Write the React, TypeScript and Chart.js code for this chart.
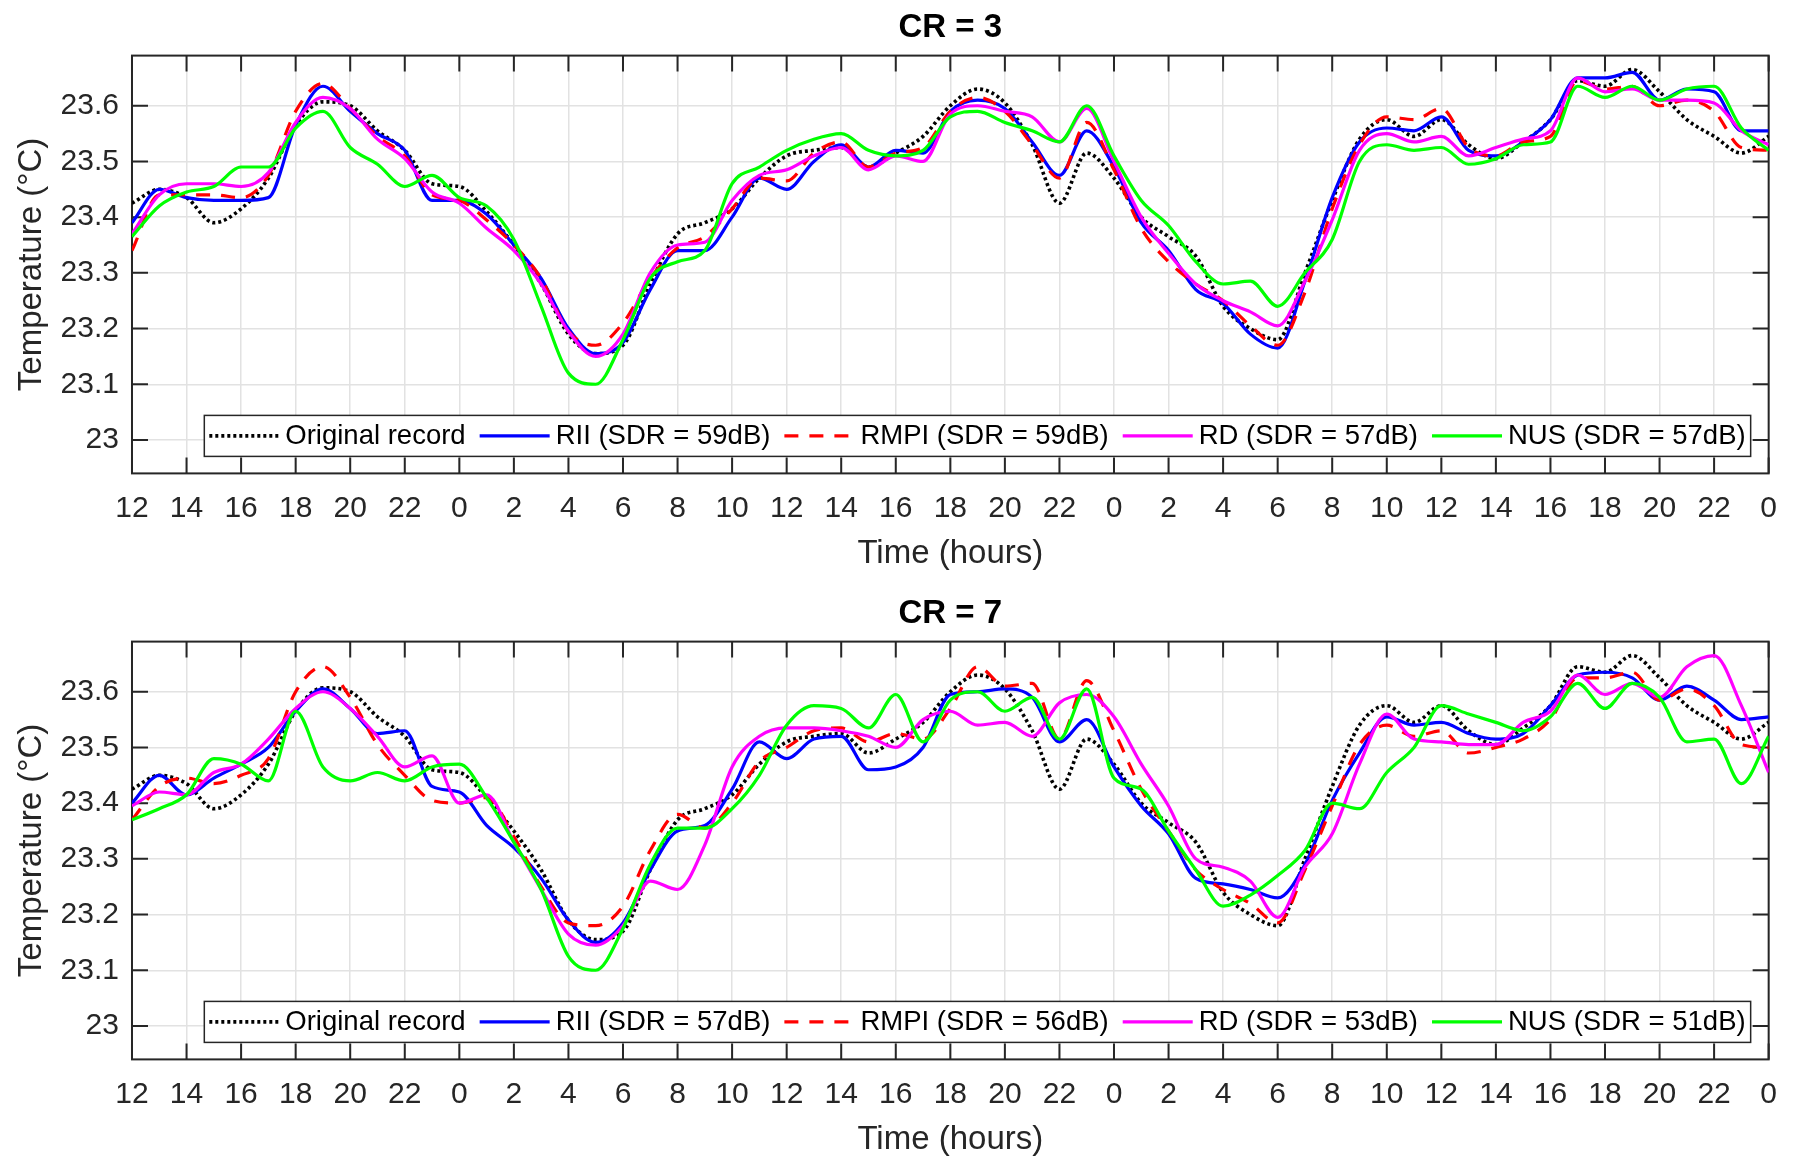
import React, { useEffect, useRef } from 'react';
import { Chart, registerables } from 'chart.js';

Chart.register(...registerables);

// ---------- data ----------
const HOURS = [
  0, 1, 2, 3, 4, 5, 6, 7, 8, 9, 10, 11, 12, 13, 14, 15, 16, 17, 18, 19, 20,
  21, 22, 23, 24, 25, 26, 27, 28, 29, 30, 31, 32, 33, 34, 35, 36, 37, 38, 39, 40,
  41, 42, 43, 44, 45, 46, 47, 48, 49, 50, 51, 52, 53, 54, 55, 56, 57, 58, 59, 60,
];
const X_TICKS = [0, 2, 4, 6, 8, 10, 12, 14, 16, 18, 20, 22, 24, 26, 28, 30, 32, 34, 36, 38, 40, 42, 44, 46, 48, 50, 52, 54, 56, 58, 60];
const X_TICK_LABELS = ['12', '14', '16', '18', '20', '22', '0', '2', '4', '6', '8', '10', '12', '14', '16', '18', '20', '22', '0', '2', '4', '6', '8', '10', '12', '14', '16', '18', '20', '22', '0'];
const Y_TICKS = [23.0, 23.1, 23.2, 23.3, 23.4, 23.5, 23.6];

const ORIGINAL = [
  23.425, 23.45, 23.435, 23.39, 23.415, 23.47, 23.565, 23.607, 23.6, 23.555, 23.52,
  23.46, 23.455, 23.41, 23.35, 23.28, 23.19, 23.155, 23.17, 23.28, 23.37,
  23.39, 23.415, 23.47, 23.51, 23.52, 23.525, 23.49, 23.515, 23.545, 23.6,
  23.63, 23.605, 23.53, 23.425, 23.515, 23.47, 23.4, 23.365, 23.33, 23.24,
  23.2, 23.18, 23.3, 23.43, 23.54, 23.575, 23.545, 23.575, 23.53, 23.505,
  23.535, 23.575, 23.645, 23.635, 23.665, 23.625, 23.575, 23.545, 23.515, 23.545,
];

const CR3_RII = [
  23.39, 23.45, 23.435, 23.43, 23.43, 23.435, 23.565, 23.635, 23.59, 23.55, 23.52,
  23.43, 23.43, 23.405, 23.35, 23.29, 23.2, 23.155, 23.175, 23.27, 23.34,
  23.34, 23.4, 23.47, 23.45, 23.5, 23.53, 23.49, 23.52, 23.515, 23.59,
  23.61, 23.595, 23.535, 23.475, 23.555, 23.49, 23.39, 23.34, 23.27, 23.245,
  23.19, 23.165, 23.285, 23.435, 23.535, 23.56, 23.555, 23.58, 23.52, 23.51,
  23.535, 23.575, 23.65, 23.65, 23.66, 23.61, 23.63, 23.625, 23.555, 23.555,
];
const CR3_RMPI = [
  23.34, 23.44, 23.44, 23.44, 23.435, 23.475, 23.59, 23.64, 23.595, 23.545, 23.51,
  23.44, 23.43, 23.395, 23.35, 23.29, 23.195, 23.17, 23.21, 23.29, 23.345,
  23.365, 23.415, 23.47, 23.465, 23.515, 23.535, 23.49, 23.515, 23.525, 23.59,
  23.615, 23.59, 23.53, 23.47, 23.57, 23.485, 23.38, 23.32, 23.28, 23.25,
  23.205, 23.17, 23.265, 23.415, 23.53, 23.58, 23.575, 23.595, 23.525, 23.51,
  23.535, 23.545, 23.645, 23.63, 23.635, 23.6, 23.61, 23.59, 23.525, 23.52,
];
const CR3_RD = [
  23.37, 23.44, 23.46, 23.46, 23.455, 23.48, 23.57, 23.615, 23.595, 23.54, 23.505,
  23.445, 23.425, 23.38, 23.34, 23.28, 23.195, 23.15, 23.19, 23.3, 23.35,
  23.355, 23.43, 23.475, 23.485, 23.51, 23.525, 23.485, 23.51, 23.5, 23.585,
  23.6, 23.59, 23.58, 23.535, 23.595, 23.5, 23.4, 23.335, 23.28, 23.25,
  23.23, 23.205, 23.285, 23.395, 23.52, 23.55, 23.535, 23.545, 23.51, 23.525,
  23.54, 23.555, 23.65, 23.625, 23.63, 23.61, 23.61, 23.605, 23.555, 23.53,
];
const CR3_NUS = [
  23.365, 23.42, 23.445, 23.455, 23.49, 23.49, 23.56, 23.59, 23.525, 23.495, 23.455,
  23.475, 23.435, 23.42, 23.36, 23.24, 23.12, 23.1, 23.18, 23.29, 23.32,
  23.34, 23.46, 23.49, 23.52, 23.54, 23.55, 23.52, 23.51, 23.52, 23.58,
  23.59, 23.57, 23.555, 23.535, 23.6, 23.51, 23.43, 23.385, 23.32, 23.28,
  23.285, 23.24, 23.3, 23.36, 23.5, 23.53, 23.52, 23.525, 23.495, 23.505,
  23.53, 23.535, 23.635, 23.615, 23.635, 23.61, 23.63, 23.635, 23.56, 23.52,
];

const CR7_RII = [
  23.4, 23.45, 23.415, 23.445, 23.47, 23.5, 23.565, 23.605, 23.57, 23.525, 23.53,
  23.43, 23.42, 23.36, 23.32, 23.265, 23.19, 23.15, 23.185, 23.28, 23.35,
  23.36, 23.425, 23.51, 23.48, 23.515, 23.52, 23.46, 23.465, 23.5, 23.595,
  23.6, 23.605, 23.59, 23.51, 23.55, 23.465, 23.395, 23.345, 23.265, 23.255,
  23.245, 23.23, 23.29, 23.405, 23.49, 23.555, 23.54, 23.545, 23.525, 23.515,
  23.525, 23.575, 23.63, 23.635, 23.625, 23.585, 23.61, 23.585, 23.55, 23.555,
];
const CR7_RMPI = [
  23.37, 23.43, 23.445, 23.435, 23.45, 23.48, 23.6, 23.645, 23.59, 23.505, 23.45,
  23.405, 23.4, 23.41, 23.34, 23.25, 23.185, 23.18, 23.215, 23.315, 23.38,
  23.355, 23.4, 23.475, 23.5, 23.53, 23.535, 23.51, 23.525, 23.515, 23.57,
  23.645, 23.61, 23.615, 23.515, 23.62, 23.53, 23.425, 23.35, 23.28, 23.245,
  23.22, 23.185, 23.28, 23.395, 23.505, 23.54, 23.52, 23.53, 23.49, 23.5,
  23.515, 23.55, 23.625, 23.625, 23.635, 23.585, 23.605, 23.575, 23.505, 23.5,
];
const CR7_RD = [
  23.395, 23.42, 23.415, 23.455, 23.47, 23.515, 23.57, 23.6, 23.57, 23.52, 23.465,
  23.485, 23.4, 23.415, 23.33, 23.245, 23.165, 23.145, 23.18, 23.26, 23.245,
  23.325, 23.465, 23.52, 23.535, 23.535, 23.53, 23.52, 23.5, 23.55, 23.565,
  23.54, 23.545, 23.52, 23.58, 23.595, 23.555, 23.47, 23.395, 23.3, 23.285,
  23.26, 23.195, 23.285, 23.345, 23.47, 23.56, 23.515, 23.51, 23.505, 23.505,
  23.545, 23.565, 23.63, 23.595, 23.615, 23.59, 23.645, 23.665, 23.575, 23.455,
];
const CR7_NUS = [
  23.37, 23.39, 23.415, 23.48, 23.47, 23.44, 23.565, 23.465, 23.44, 23.455, 23.44,
  23.465, 23.47, 23.41, 23.33, 23.245, 23.125, 23.1, 23.175, 23.29, 23.355,
  23.355, 23.39, 23.45, 23.54, 23.575, 23.57, 23.535, 23.595, 23.51, 23.585,
  23.6, 23.565, 23.59, 23.515, 23.605, 23.445, 23.425, 23.35, 23.28, 23.215,
  23.235, 23.27, 23.315, 23.4, 23.39, 23.455, 23.5, 23.575, 23.56, 23.545,
  23.53, 23.555, 23.615, 23.57, 23.615, 23.59, 23.51, 23.515, 23.435, 23.52,
];

const CR3_LABELS = ['Original record', 'RII (SDR = 59dB)', 'RMPI (SDR = 59dB)', 'RD (SDR = 57dB)', 'NUS (SDR = 57dB)'];
const CR7_LABELS = ['Original record', 'RII (SDR = 57dB)', 'RMPI (SDR = 56dB)', 'RD (SDR = 53dB)', 'NUS (SDR = 51dB)'];

// ---------- styles ----------
const FONT = '"Liberation Sans", Arial, Helvetica, sans-serif';
const AXIS_COLOR = '#262626';
const TICK_LEN = 16;

const STYLES = [
  { color: '#000000', dash: [3, 3], width: 3.6 },
  { color: '#0000ff', dash: [], width: 3.2 },
  { color: '#ff0000', dash: [14, 11], width: 3.2 },
  { color: '#ff00ff', dash: [], width: 3.2 },
  { color: '#00ff00', dash: [], width: 3.2 },
];

const framePlugin = {
  id: 'frameTicks',
  beforeDatasetsDraw(chart: any) {
    const { ctx, chartArea: a, scales } = chart;
    ctx.save();
    ctx.strokeStyle = AXIS_COLOR;
    ctx.lineWidth = 2;
    ctx.beginPath();
    for (const v of X_TICKS) {
      const x = scales.x.getPixelForValue(v);
      ctx.moveTo(x, a.bottom);
      ctx.lineTo(x, a.bottom - TICK_LEN);
      ctx.moveTo(x, a.top);
      ctx.lineTo(x, a.top + TICK_LEN);
    }
    for (const v of Y_TICKS) {
      const y = scales.y.getPixelForValue(v);
      ctx.moveTo(a.left, y);
      ctx.lineTo(a.left + TICK_LEN, y);
      ctx.moveTo(a.right, y);
      ctx.lineTo(a.right - TICK_LEN, y);
    }
    ctx.stroke();
    ctx.strokeRect(a.left, a.top, a.right - a.left, a.bottom - a.top);
    ctx.restore();
  },
};

const legendPlugin = {
  id: 'insideLegend',
  afterDraw(chart: any) {
    const { ctx, chartArea: a } = chart;
    const ds = chart.data.datasets;
    const SAMPLE = 70, GAP1 = 6, GAP2 = 14, PAD = 5, H = 41;
    ctx.save();
    ctx.font = `27.5px ${FONT}`;
    const widths = ds.map((d: any) => ctx.measureText(d.label).width);
    const total = PAD * 2 + ds.length * (SAMPLE + GAP1) + widths.reduce((s: number, w: number) => s + w, 0) + (ds.length - 1) * GAP2;
    const right = a.right - 18;
    const bottom = a.bottom - 17;
    const left = right - total;
    const top = bottom - H;
    ctx.fillStyle = '#ffffff';
    ctx.fillRect(left, top, total, H);
    ctx.strokeStyle = AXIS_COLOR;
    ctx.lineWidth = 1.5;
    ctx.strokeRect(left, top, total, H);
    const cy = top + H / 2;
    let x = left + PAD;
    ds.forEach((d: any, i: number) => {
      ctx.beginPath();
      ctx.strokeStyle = d.borderColor;
      ctx.lineWidth = d.borderWidth;
      ctx.setLineDash(d.borderDash || []);
      ctx.moveTo(x, cy);
      ctx.lineTo(x + SAMPLE, cy);
      ctx.stroke();
      ctx.setLineDash([]);
      x += SAMPLE + GAP1;
      ctx.fillStyle = '#000000';
      ctx.textBaseline = 'middle';
      ctx.textAlign = 'left';
      ctx.fillText(d.label, x, cy + 1);
      x += widths[i] + GAP2;
    });
    ctx.restore();
  },
};

function buildConfig(title: string, labels: string[], series: number[][]): any {
  const datasets = series.map((arr, i) => ({
    label: labels[i],
    data: HOURS.map((h, j) => ({ x: h, y: arr[j] })),
    borderColor: STYLES[i].color,
    borderDash: STYLES[i].dash,
    borderWidth: STYLES[i].width,
    borderCapStyle: 'butt',
    pointRadius: 0,
    fill: false,
    cubicInterpolationMode: 'monotone',
    order: series.length - i,
  }));
  return {
    type: 'line',
    data: { datasets },
    options: {
      animation: false,
      responsive: true,
      maintainAspectRatio: false,
      devicePixelRatio: 1,
      layout: { padding: { top: 8.5, left: 8, right: 22, bottom: 6 } },
      plugins: {
        legend: { display: false },
        tooltip: { enabled: false },
        title: {
          display: true,
          text: title,
          fullSize: false,
          color: '#000000',
          font: { family: FONT, size: 33, weight: 'bold', lineHeight: 1.2 },
          padding: { top: 0, bottom: 7.5 },
        },
      },
      scales: {
        x: {
          type: 'linear',
          min: 0,
          max: 60,
          afterBuildTicks: (scale: any) => {
            scale.ticks = X_TICKS.map((v) => ({ value: v }));
          },
          ticks: {
            autoSkip: false,
            maxRotation: 0,
            minRotation: 0,
            padding: 17,
            color: AXIS_COLOR,
            font: { family: FONT, size: 30, lineHeight: 1.2 },
            callback: (_v: any, idx: number) => X_TICK_LABELS[idx],
          },
          grid: { color: '#e2e2e2', lineWidth: 1.5, drawTicks: false },
          border: { display: false },
          title: {
            display: true,
            text: 'Time (hours)',
            color: AXIS_COLOR,
            font: { family: FONT, size: 33, lineHeight: 1.2 },
            padding: { top: -9, bottom: 4 },
          },
        },
        y: {
          type: 'linear',
          min: 22.94,
          max: 23.69,
          afterBuildTicks: (scale: any) => {
            scale.ticks = Y_TICKS.map((v) => ({ value: v }));
          },
          ticks: {
            padding: 13,
            color: AXIS_COLOR,
            font: { family: FONT, size: 30, lineHeight: 1.2 },
            callback: (v: any) => String(Number(Number(v).toFixed(1))),
          },
          grid: { color: '#e2e2e2', lineWidth: 1.5, drawTicks: false },
          border: { display: false },
          title: {
            display: true,
            text: 'Temperature (°C)',
            color: AXIS_COLOR,
            font: { family: FONT, size: 33, lineHeight: 1.2 },
            padding: { top: 4, bottom: -4 },
          },
        },
      },
    },
    plugins: [framePlugin, legendPlugin],
  };
}

function Panel(props: { title: string; labels: string[]; series: number[][]; top: number }) {
  const ref = useRef<HTMLCanvasElement | null>(null);
  useEffect(() => {
    if (!ref.current) return;
    const chart = new Chart(ref.current, buildConfig(props.title, props.labels, props.series));
    return () => chart.destroy();
  }, []);
  return (
    <div style={{ position: 'absolute', left: 0, top: props.top, width: 1794, height: 584 }}>
      <canvas ref={ref} />
    </div>
  );
}

export default function App() {
  return (
    <div style={{ position: 'absolute', left: 0, top: 0, width: 1794, height: 1168, background: '#ffffff', overflow: 'hidden' }}>
      <Panel title="CR = 3" labels={CR3_LABELS} series={[ORIGINAL, CR3_RII, CR3_RMPI, CR3_RD, CR3_NUS]} top={0} />
      <Panel title="CR = 7" labels={CR7_LABELS} series={[ORIGINAL, CR7_RII, CR7_RMPI, CR7_RD, CR7_NUS]} top={586} />
    </div>
  );
}
